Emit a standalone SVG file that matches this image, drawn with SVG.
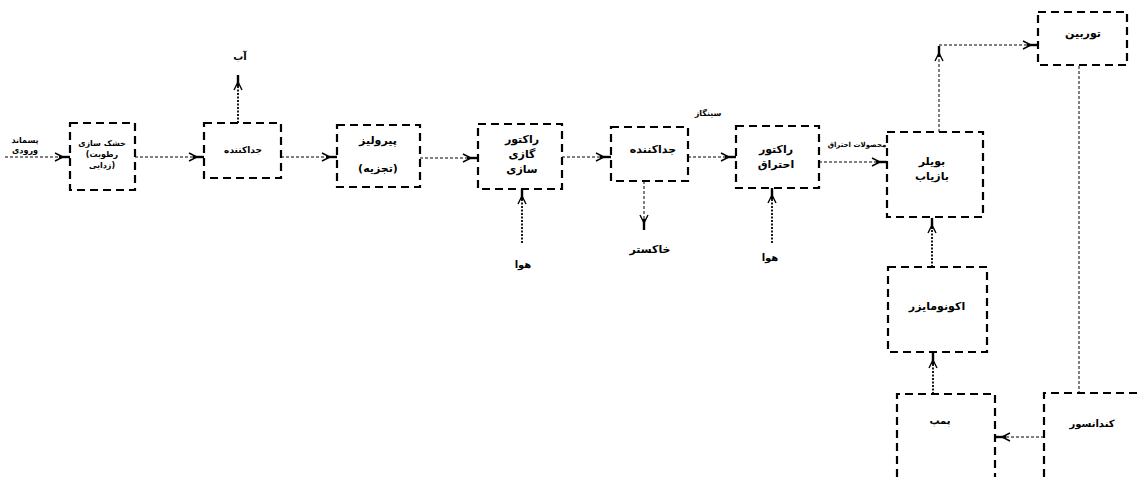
<svg xmlns="http://www.w3.org/2000/svg" width="1140" height="477" viewBox="0 0 1140 477">
<style>
.box{fill:none;stroke:#000;stroke-width:2.2;stroke-dasharray:8,5}
.c{fill:none;stroke:#000;stroke-width:1;stroke-dasharray:3,2}
.cv{fill:none;stroke:#000;stroke-width:1.8;stroke-dasharray:2,1.5}
text{font-family:"DejaVu Sans","Noto Sans",sans-serif;font-weight:bold;text-anchor:middle;dominant-baseline:middle;fill:#000}
.s7{font-size:7px}.s8{font-size:8px}.s9{font-size:9px}.s10{font-size:10px}.s11{font-size:11px}
</style>
<defs>
<marker id="ah" markerUnits="userSpaceOnUse" viewBox="-16 -6 17 12" refX="0" refY="0" markerWidth="17" markerHeight="12" orient="auto">
<path d="M-11,0 H0" stroke="#000" stroke-width="2.4" fill="none"/>
<path d="M-15,-4 L-7,0 L-15,4" stroke="#000" stroke-width="1.4" fill="none"/>
</marker>
</defs>
<g id="connectors">
<line class="c" x1="5" y1="157" x2="70" y2="157" marker-end="url(#ah)"/>
<line class="c" x1="135" y1="157" x2="204" y2="157" marker-end="url(#ah)"/>
<line class="cv" x1="238" y1="123" x2="238" y2="75" marker-end="url(#ah)"/>
<line class="c" x1="281" y1="157" x2="337" y2="157" marker-end="url(#ah)"/>
<line class="c" x1="420" y1="158" x2="478" y2="158" marker-end="url(#ah)"/>
<line class="cv" x1="522" y1="243" x2="522" y2="189" marker-end="url(#ah)"/>
<line class="c" x1="562" y1="157" x2="611" y2="157" marker-end="url(#ah)"/>
<line class="c" x1="644" y1="181" x2="644" y2="230" marker-end="url(#ah)"/>
<line class="c" x1="688" y1="157" x2="736" y2="157" marker-end="url(#ah)"/>
<line class="cv" x1="772" y1="243" x2="772" y2="188" marker-end="url(#ah)"/>
<line class="c" x1="819" y1="162" x2="887" y2="162" marker-end="url(#ah)"/>
<line class="c" x1="939" y1="132" x2="939" y2="46" marker-end="url(#ah)"/>
<line class="c" x1="939" y1="45" x2="1038" y2="45" marker-end="url(#ah)"/>
<line class="c" x1="1079" y1="66" x2="1079" y2="393"/>
<line class="cv" x1="932" y1="267" x2="932" y2="218" marker-end="url(#ah)"/>
<line class="cv" x1="933" y1="394" x2="933" y2="353" marker-end="url(#ah)"/>
<line class="c" x1="1044" y1="437" x2="995" y2="437" marker-end="url(#ah)"/>
</g>
<g id="input-label">
<text class="s8" x="25" y="140">پسماند</text>
<text class="s8" x="25" y="150">ورودی</text>
</g>
<g id="dryer">
<rect class="box" x="70" y="123" width="65" height="67"/>
<text class="s8" x="102" y="143">خشک سازی</text>
<text class="s8" x="102" y="154">(رطوبت</text>
<text class="s8" x="102" y="165">زدایی)</text>
</g>
<g id="water-label"><text class="s10" x="240" y="57">آب</text></g>
<g id="separator1">
<rect class="box" x="204" y="123" width="77" height="55"/>
<text class="s9" x="243" y="150">جداکننده</text>
</g>
<g id="pyrolysis">
<rect class="box" x="337" y="125" width="83" height="62"/>
<text class="s11" x="378" y="141">پیرولیز</text>
<text class="s11" x="378" y="169">(تجزیه)</text>
</g>
<g id="gasifier">
<rect class="box" x="478" y="124" width="84" height="65"/>
<text class="s11" x="522" y="140">راکتور</text>
<text class="s11" x="522" y="155">گازی</text>
<text class="s11" x="522" y="170">سازی</text>
</g>
<g id="air1"><text class="s10" x="523" y="265">هوا</text></g>
<g id="separator2">
<rect class="box" x="611" y="127" width="77" height="54"/>
<text class="s11" x="653" y="150">جداکننده</text>
</g>
<g id="syngas-label"><text class="s8" x="708" y="113">سینگاز</text></g>
<g id="ash-label"><text class="s11" x="650" y="250">خاکستر</text></g>
<g id="combustor">
<rect class="box" x="736" y="126" width="83" height="62"/>
<text class="s11" x="776" y="150">راکتور</text>
<text class="s11" x="776" y="165">احتراق</text>
</g>
<g id="air2"><text class="s10" x="770" y="258">هوا</text></g>
<g id="products-label"><text class="s7" x="857" y="145">محصولات احتراق</text></g>
<g id="boiler">
<rect class="box" x="887" y="132" width="96" height="85"/>
<text class="s11" x="932" y="162">بویلر</text>
<text class="s11" x="932" y="177">بازیاب</text>
</g>
<g id="turbine">
<rect class="box" x="1038" y="12" width="89" height="53"/>
<text class="s11" x="1083" y="34">توربین</text>
</g>
<g id="economizer">
<rect class="box" x="888" y="267" width="99" height="85"/>
<text class="s11" x="937" y="307">اکونومایزر</text>
</g>
<g id="pump">
<path class="box" d="M897,477 V394 H995 V477"/>
<text class="s10" x="940" y="421">پمپ</text>
</g>
<g id="condenser">
<path class="box" d="M1044,477 V393 H1140"/>
<text class="s10" x="1092" y="424">کندانسور</text>
</g>
</svg>
